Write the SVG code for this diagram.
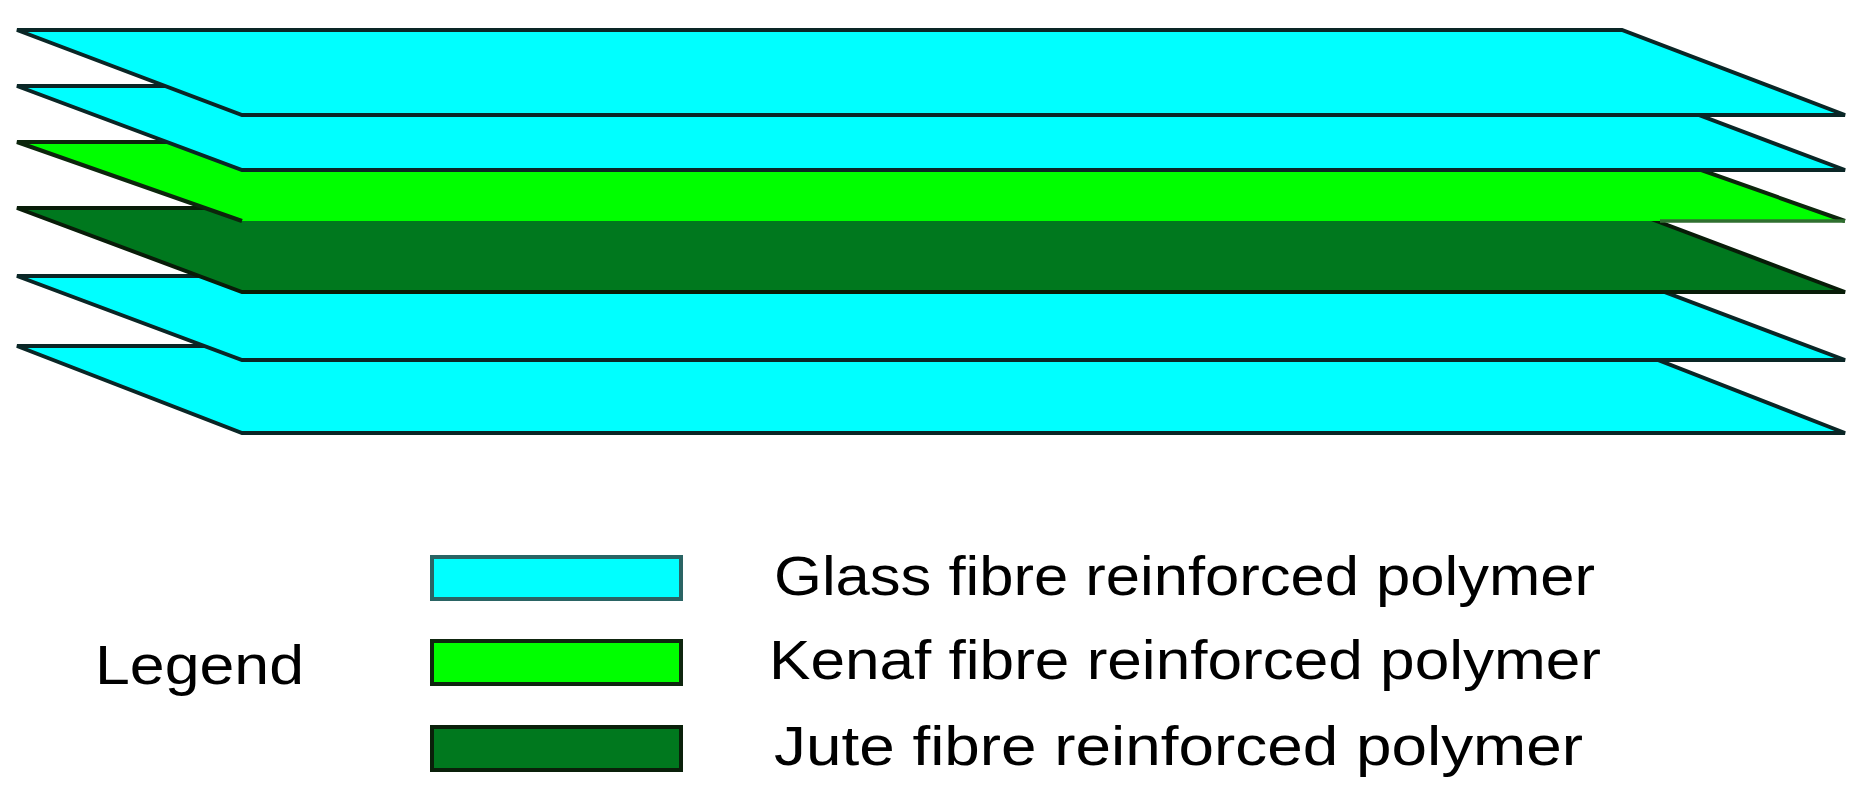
<svg xmlns="http://www.w3.org/2000/svg" width="1866" height="798" viewBox="0 0 1866 798">
<style>
.glass{fill:#00FFFF;stroke:#0a2626;stroke-width:4;stroke-linejoin:miter}
.kenaf{fill:#00FF00}
.kedge{fill:none;stroke:#0c260c;stroke-width:4}
.jute{fill:#00781E;stroke:#081c08;stroke-width:4}
.lbl{font-family:"Liberation Sans",Arial,sans-serif;font-size:56px;fill:#000}
</style>
<rect width="1866" height="798" fill="#fff"/>
<g id="layer6"><polygon class="glass" points="17,346 1622,346 1845,433 242,433"/></g>
<g id="layer5"><polygon class="glass" points="17,276 1622,276 1845,360 242,360"/></g>
<g id="layer4"><polygon class="jute" points="17,208 1622,208 1845,292 242,292"/></g>
<g id="layer3">
<polygon class="kenaf" points="17,142 1622,142 1845,221 242,221"/>
<polyline class="kedge" points="242,221 17,142 1622,142 1845,221"/>
<line x1="1660" y1="221" x2="1845" y2="221" stroke="#2f6f2f" stroke-width="3.5"/>
</g>
<g id="layer2"><polygon class="glass" points="17,86 1622,86 1845,170 242,170"/></g>
<g id="layer1"><polygon class="glass" points="17,30 1622,30 1845,115 242,115"/></g>
<g id="legend">
<text class="lbl" x="95" y="684" textLength="209" lengthAdjust="spacingAndGlyphs">Legend</text>
<g id="leg-glass">
<rect x="432" y="557" width="249" height="42" fill="#00FFFF" stroke="#2a6464" stroke-width="4"/>
<text class="lbl" x="774" y="595" textLength="821" lengthAdjust="spacingAndGlyphs">Glass fibre reinforced polymer</text>
</g>
<g id="leg-kenaf">
<rect x="432" y="641" width="249" height="43" fill="#00FF00" stroke="#0f260f" stroke-width="4"/>
<text class="lbl" x="769" y="679" textLength="832" lengthAdjust="spacingAndGlyphs">Kenaf fibre reinforced polymer</text>
</g>
<g id="leg-jute">
<rect x="432" y="727" width="249" height="43" fill="#00781E" stroke="#0a200a" stroke-width="4"/>
<text class="lbl" x="774" y="765" textLength="809" lengthAdjust="spacingAndGlyphs">Jute fibre reinforced polymer</text>
</g>
</g>
</svg>
